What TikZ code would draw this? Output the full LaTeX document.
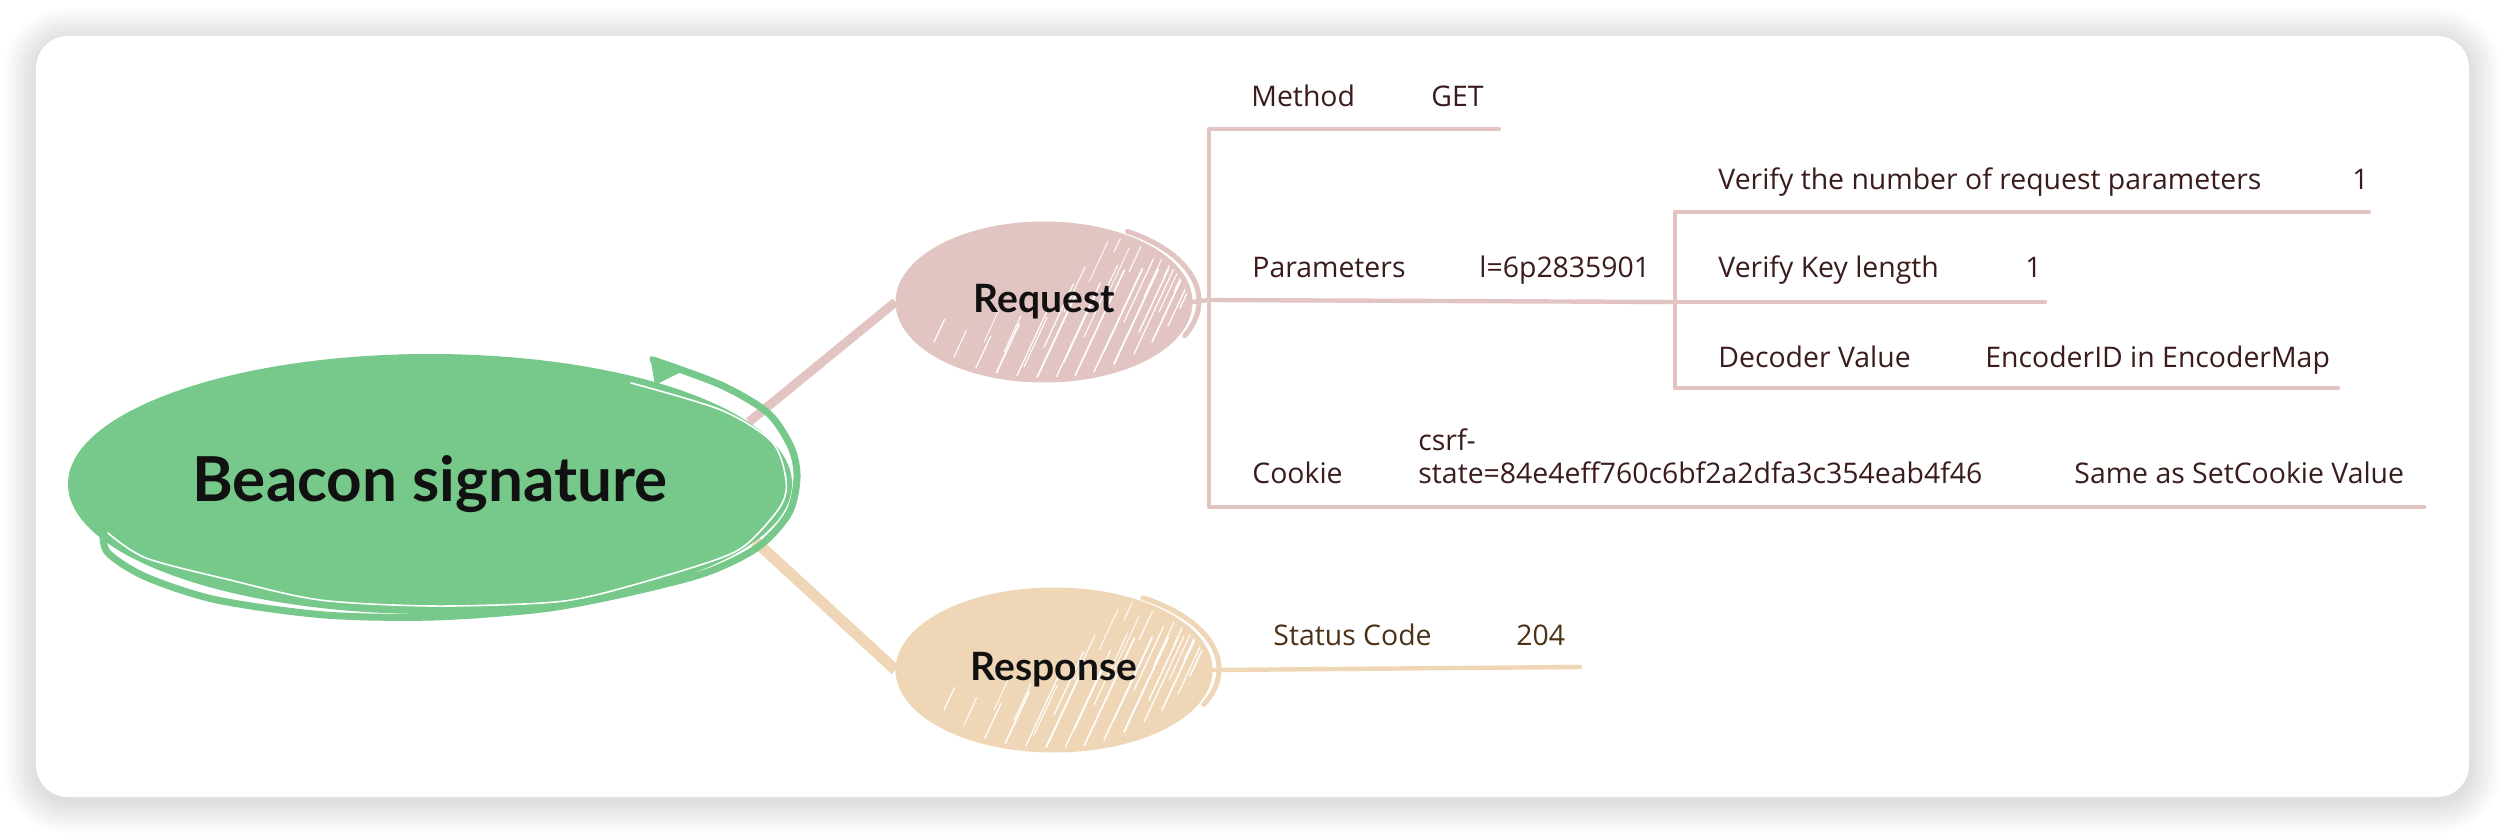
\documentclass[tikz,border=0pt]{standalone}
\usepackage{fontspec}
\setmainfont{Open Sans}
\newfontfamily\titlefont{Lato}
\usetikzlibrary{shapes.geometric,backgrounds}
\definecolor{mgreen}{RGB}{118,201,138}
\definecolor{reqc}{RGB}{226,196,194}
\definecolor{resc}{RGB}{239,214,183}
\definecolor{reqtxt}{RGB}{58,28,28}
\definecolor{restxt}{RGB}{75,50,24}
\definecolor{ttl}{RGB}{17,17,17}
\newcommand\myhatch{%
 \foreach \a/\b/\l/\w in {-70/70/40/0.6, -50/76/60/0.8, -30/80/80/0.6, -10/82/100/0.9, 10/80/110/0.6, 30/76/120/0.8, 50/70/115/0.7, 70/62/105/0.9, 90/52/95/0.6, 108/40/80/0.8, 124/24/60/0.6, 136/6/40/0.7, -40/50/40/0.5, 0/45/70/0.6, 40/35/80/0.5, 80/20/70/0.6, 100/-5/50/0.5, 60/0/60/0.4, 20/10/50/0.5, 120/-25/35/0.6, 85/-30/45/0.5, -90/55/30/0.5, -110/40/25/0.6, -20/65/55/0.5, 20/60/75/0.7, 60/50/90/0.5, 95/30/70/0.7, 115/10/55/0.5, 130/-10/40/0.6, 70/-50/40/0.5, 45/-20/45/0.4, -60/40/35/0.4}{%
  \draw[white, line width=\w pt, line cap=round] ([shift={(\a,\b)}]path picture bounding box.center) -- ++(0.42*\l,-0.9*\l);
 }}
\tikzset{
  topic/.style={ellipse, inner sep=0pt, text=ttl, font=\titlefont\bfseries\fontsize{19.5}{22}\selectfont},
  lbl/.style={anchor=base west, inner sep=0pt, text=reqtxt, font=\fontsize{14.2}{16.5}\selectfont},
  rlbl/.style={lbl, text=restxt},
  reqline/.style={draw=reqc, line width=2.2pt, line join=round, line cap=round},
  resline/.style={draw=resc, line width=2.2pt, line cap=round},
}
\begin{document}
\begin{tikzpicture}[x=0.5pt,y=-0.5pt]
\useasboundingbox (0,0) rectangle (2506,834);
% nodes
\node[topic, fill=mgreen, minimum width=362pt, minimum height=130pt,
      font=\titlefont\bfseries\fontsize{31}{35}\selectfont] (main) at (430,484) {Beacon signature};
\node[topic, fill=reqc, draw=reqc, line width=2.5pt, minimum width=146pt, minimum height=78pt,
      path picture={\myhatch}] (req) at (1044,302) {Request};
\node[topic, fill=resc, draw=resc, line width=2.5pt, minimum width=156pt, minimum height=80pt,
      path picture={\myhatch}] (res) at (1054,670) {Response};
% sketchy strokes of the main topic
\draw[white, line width=0.8pt, line cap=round] plot[smooth] coordinates {(631,383) (721,410) (772,442) (786,480) (780,507) (743,547) (694,567) (596,595) (542,603) (431,606) (320,600) (230,580) (146,558) (108,533)};
\draw[mgreen, line width=3.5pt, line cap=round] plot[smooth] coordinates {(653,360) (721,385) (768,413) (791,447) (797,477) (789,513) (758,547) (705,573) (623,594) (542,609) (434,617) (325,615) (217,600) (146,577) (108,553) (103,533)};
\fill[mgreen] (650,356) -- (655,385) -- (685,370) -- cycle;
% sketchy rims of the sub topics
\draw[reqc, line width=2.5pt, line cap=round] ([shift={(3,-1)}]req.center) ++(-58:152 and 82) arc[start angle=-58, end angle=25, x radius=152, y radius=82];
\draw[resc, line width=2.5pt, line cap=round] ([shift={(3,-1)}]res.center) ++(-58:162 and 84) arc[start angle=-58, end angle=25, x radius=162, y radius=84];
% labels
\node[lbl] (mth) at (1251,107) {Method};
\node[lbl] (mthv) at (1431,107) {GET};
\node[lbl] (par) at (1252,278) {Parameters};
\node[lbl] (parv) at (1479,278) {l=6p2835901};
\node[lbl] (v1) at (1718,190) {Verify the number of request parameters};
\node[lbl] (v1v) at (2352,190) {1};
\node[lbl] (v2) at (1718,278) {Verify Key length};
\node[lbl] (v2v) at (2025,278) {1};
\node[lbl] (v3) at (1718,367) {Decoder Value};
\node[lbl] (v3v) at (1985,367) {EncoderID in EncoderMap};
\node[lbl] (ck) at (1252,483) {Cookie};
\node[lbl] (ckv) at (1418,483) {\vbox{\hbox{csrf-}\hbox{state=84e4eff760c6bf2a2dfa3c354eab4f46}}};
\node[lbl] (ckr) at (2074,483) {Same as SetCookie Value};
\node[rlbl] (sc) at (1273,645) {Status Code};
\node[rlbl] (scv) at (1516,645) {204};
% tree coordinates
\coordinate (bt) at (1209,129);
\coordinate (bp) at (1209,300);
\coordinate (bb) at (1209,507);
\coordinate (mend) at (1499,129);
\coordinate (cend) at (2424,507);
\coordinate (pj) at (1675,302);
\coordinate (st) at (1675,212);
\coordinate (sb) at (1675,388);
\coordinate (v1end) at (2369,212);
\coordinate (v2end) at (2045,302);
\coordinate (v3end) at (2338,388);
\coordinate (rsend) at (1580,667);
\draw[reqline] (mend) -- (bt) -- (bb) -- (cend);
\draw[reqline] (req.east) -- (bp) -- (pj);
\draw[reqline] (v1end) -- (st) -- (sb) -- (v3end);
\draw[reqline] (pj) -- (v2end);
\draw[resline] (res.east) -- (rsend);
% background: shadow, card, main connectors
\begin{scope}[on background layer]
  \fill[white] (0,0) rectangle (2506,834);
  \foreach \i in {1,...,16}{
    \pgfmathsetmacro\rr{16+\i}
    \fill[black, opacity=0.0065, rounded corners=\rr pt] (36-2*\i,40-2*\i) rectangle (2469+2*\i,801+2*\i);
  }
  \fill[white, rounded corners=16pt] (36,36) rectangle (2469,797);
  \draw[reqc, line width=4.5pt] (main.11) -- (req.west);
  \draw[resc, line width=5.5pt] (main.-10) -- (res.west);
\end{scope}
\end{tikzpicture}
\end{document}
